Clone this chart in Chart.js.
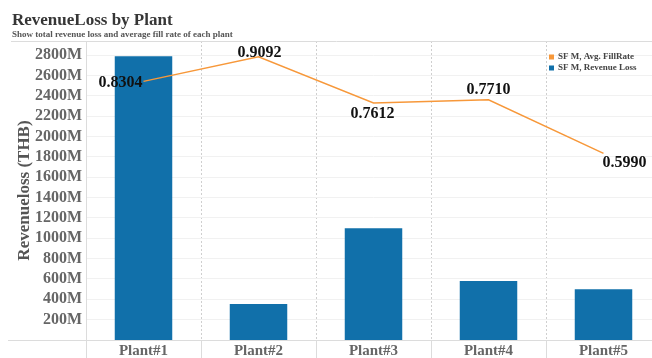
<!DOCTYPE html>
<html>
<head>
<meta charset="utf-8">
<script src="https://cdn.jsdelivr.net/npm/chart.js@4.4.1/dist/chart.umd.min.js"></script>
<style>
html, body { margin: 0; padding: 0; overflow: hidden; background: #fff; }
#wrap { width: 662px; height: 375px; position: relative; }
</style>
</head>
<body>
<div id="wrap"><canvas id="revChart"></canvas></div>
<script>
// revenue loss per plant (million THB) and average fill rate
var plants = ['Plant#1', 'Plant#2', 'Plant#3', 'Plant#4', 'Plant#5'];
var revenueLoss = [2790, 355, 1100, 580, 500];
var fillRate = [0.8304, 0.9092, 0.7612, 0.7710, 0.5990];
var yTicks = [200, 400, 600, 800, 1000, 1200, 1400, 1600, 1800, 2000, 2200, 2400, 2600, 2800];

var barColor = '#1170aa';
var lineColor = '#f7983a';
var serif = '"Liberation Serif", "Times New Roman", serif';

// where each fill rate label sits relative to its point
var labelPos = [
    { align: 'right', dx: -1, dy: 1 },
    { align: 'center', dx: 1, dy: -4 },
    { align: 'center', dx: -1, dy: 11 },
    { align: 'center', dx: 0, dy: -10 },
    { align: 'left', dx: -1, dy: 9 }
];

var framePlugin = {
    id: 'frame',
    beforeDatasetsDraw: function (chart) {
        var ctx = chart.ctx, area = chart.chartArea, x = chart.scales.x;
        ctx.save();
        ctx.strokeStyle = '#dcdcdc';
        ctx.lineWidth = 1;
        ctx.beginPath();
        ctx.moveTo(11, area.top + 0.5); ctx.lineTo(chart.width, area.top + 0.5);
        ctx.moveTo(8, area.bottom + 0.5); ctx.lineTo(chart.width, area.bottom + 0.5);
        ctx.moveTo(area.left + 0.5, area.top); ctx.lineTo(area.left + 0.5, chart.height);
        // solid separators under the category labels
        for (var i = 1; i < plants.length; i++) {
            var sx = Math.round((x.getPixelForValue(i - 1) + x.getPixelForValue(i)) / 2) + 0.5;
            ctx.moveTo(sx, area.bottom); ctx.lineTo(sx, chart.height);
        }
        ctx.stroke();
        ctx.restore();
    },
    afterDatasetsDraw: function (chart) {
        var ctx = chart.ctx;
        var pts = chart.getDatasetMeta(1).data;
        ctx.save();
        ctx.font = 'bold 16px ' + serif;
        ctx.fillStyle = '#111';
        ctx.textBaseline = 'middle';
        pts.forEach(function (p, i) {
            var pos = labelPos[i];
            ctx.textAlign = pos.align;
            ctx.fillText(fillRate[i].toFixed(4), p.x + pos.dx, p.y + pos.dy);
        });
        ctx.restore();
    },
    afterDraw: function (chart) {
        var ctx = chart.ctx;
        ctx.save();
        ctx.textAlign = 'left';
        ctx.textBaseline = 'alphabetic';
        ctx.fillStyle = '#363636';
        ctx.font = 'bold 17px ' + serif;
        ctx.fillText('RevenueLoss by Plant', 12, 25);
        ctx.fillStyle = '#555';
        ctx.font = 'bold 9px ' + serif;
        ctx.fillText('Show total revenue loss and average fill rate of each plant', 12, 37);

        // legend
        var items = [['SF M, Avg. FillRate', lineColor], ['SF M, Revenue Loss', barColor]];
        ctx.textBaseline = 'middle';
        items.forEach(function (it, i) {
            var cy = 57 + i * 11;
            ctx.fillStyle = it[1];
            ctx.fillRect(549, cy - 2.5, 5, 5);
            ctx.fillStyle = '#444';
            ctx.fillText(it[0], 558, cy);
        });
        ctx.restore();
    }
};

var ctx = document.getElementById('revChart').getContext('2d');
var chart = new Chart(ctx, {
    data: {
        labels: plants,
        datasets: [{
            type: 'bar',
            label: 'SF M, Revenue Loss',
            data: revenueLoss,
            backgroundColor: barColor,
            barPercentage: 0.5,
            categoryPercentage: 1.0,
            yAxisID: 'y',
            order: 1
        }, {
            type: 'line',
            label: 'SF M, Avg. FillRate',
            data: fillRate,
            borderColor: lineColor,
            borderWidth: 1.5,
            pointRadius: 0,
            tension: 0,
            yAxisID: 'y1',
            order: 0
        }]
    },
    options: {
        responsive: true,
        maintainAspectRatio: false,
        animation: false,
        layout: { padding: { top: 41, right: 1, left: 0, bottom: 0 } },
        plugins: {
            legend: { display: false },
            tooltip: { enabled: false }
        },
        scales: {
            x: {
                offset: true,
                afterFit: function (axis) { axis.height = 35; },
                grid: {
                    offset: true,
                    drawTicks: false,
                    color: function (c) { return c.index === 0 ? 'rgba(0,0,0,0)' : '#cfcfcf'; }
                },
                border: { display: false, dash: [2, 2] },
                ticks: {
                    padding: 2,
                    color: '#666',
                    font: { family: serif, size: 15, weight: 'bold' }
                }
            },
            y: {
                min: 0,
                max: 2940,
                afterFit: function (axis) { axis.width = 86; },
                afterBuildTicks: function (axis) {
                    axis.ticks = yTicks.map(function (v) { return { value: v }; });
                },
                grid: { drawTicks: false, color: '#f1f1f1' },
                border: { display: false },
                ticks: {
                    padding: 4,
                    autoSkip: false,
                    color: '#666',
                    font: { family: serif, size: 16, weight: 'bold' },
                    callback: function (v) { return v + 'M'; }
                },
                title: {
                    display: true,
                    text: 'Revenueloss (THB)',
                    color: '#555',
                    padding: { top: 14, bottom: 0 },
                    font: { family: serif, size: 17, weight: 'bold' }
                }
            },
            y1: {
                display: false,
                min: 0,
                max: 0.96
            }
        }
    },
    plugins: [framePlugin]
});
</script>
</body>
</html>
